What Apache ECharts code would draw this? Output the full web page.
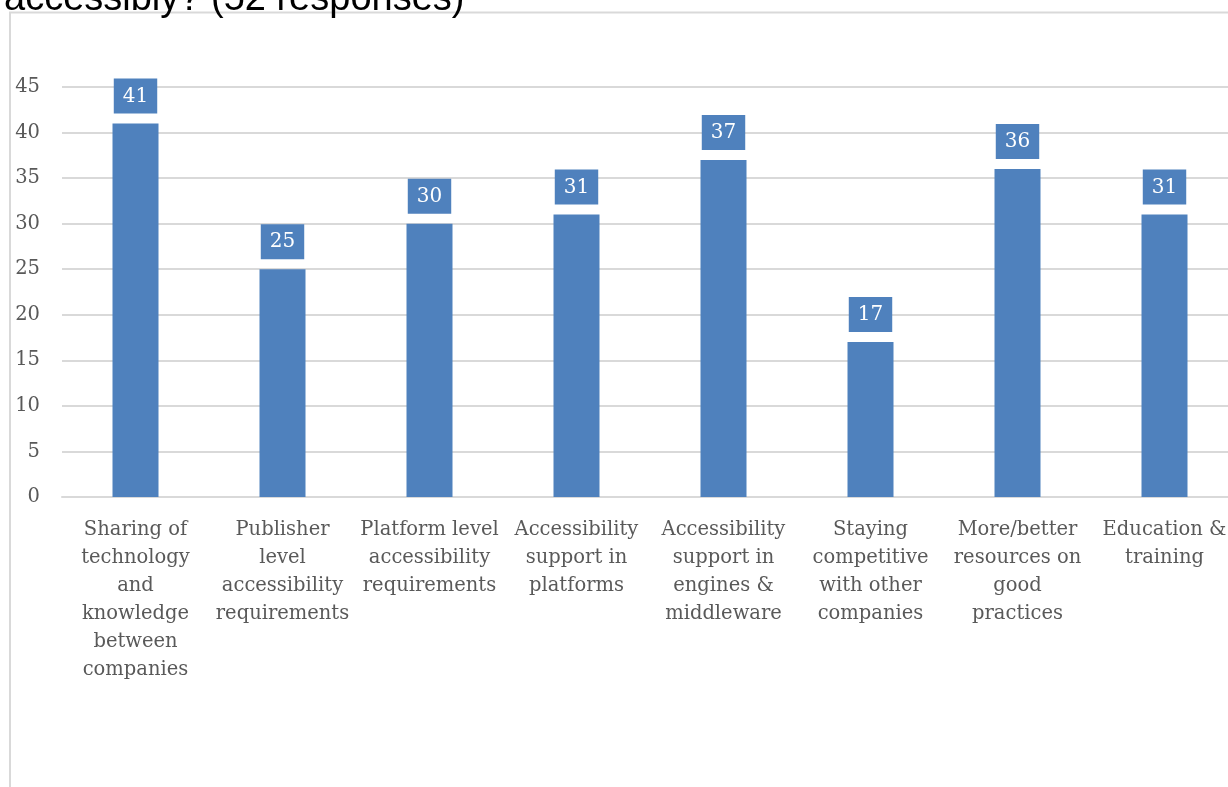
<!DOCTYPE html>
<html>
<head>
<meta charset="utf-8">
<script src="https://cdn.jsdelivr.net/npm/echarts@6/dist/echarts.min.js"></script>
<style>
  html, body { margin: 0; padding: 0; background: #ffffff; }
  #chart { width: 1228px; height: 787px; }
</style>
</head>
<body>
<div id="chart"></div>
<script>
// Survey answers: what would help improve accessibility
const titleText = 'accessibly? (52 responses)';

const categories = [
  'Sharing of\ntechnology\nand\nknowledge\nbetween\ncompanies',
  'Publisher\nlevel\naccessibility\nrequirements',
  'Platform level\naccessibility\nrequirements',
  'Accessibility\nsupport in\nplatforms',
  'Accessibility\nsupport in\nengines &\nmiddleware',
  'Staying\ncompetitive\nwith other\ncompanies',
  'More/better\nresources on\ngood\npractices',
  'Education &\ntraining'
];

const responses = [41, 25, 30, 31, 37, 17, 36, 31];

const yMin = 0;
const yMax = 45;
const yStep = 5;

const barBlue = '#4f81bd';
const gridGray = '#d9d9d9';
const textGray = '#595959';
const serif = '"DejaVu Serif", serif';

const chart = echarts.init(document.getElementById('chart'), null, { renderer: 'canvas' });

chart.setOption({
  animation: false,
  backgroundColor: '#ffffff',
  title: {
    text: titleText,
    left: -1,
    top: -24,
    textStyle: {
      fontFamily: '"Liberation Sans", Arial, sans-serif',
      fontSize: 38,
      fontWeight: 'normal',
      color: '#000000'
    }
  },
  graphic: [
    {
      type: 'rect',
      silent: true,
      z: -1,
      shape: { x: 10, y: 12.5, width: 1400, height: 900 },
      style: { fill: 'none', stroke: gridGray, lineWidth: 2 }
    }
  ],
  grid: {
    left: 62,
    top: 87,
    width: 1176,
    height: 410,
    containLabel: false,
    outerBoundsMode: 'none'
  },
  xAxis: {
    type: 'category',
    data: categories,
    axisLine: { show: true, lineStyle: { color: gridGray, width: 2 } },
    axisTick: { show: false },
    axisLabel: {
      interval: 0,
      margin: 19,
      fontFamily: serif,
      fontSize: 19.5,
      lineHeight: 28,
      color: textGray,
      align: 'center'
    }
  },
  yAxis: {
    type: 'value',
    min: yMin,
    max: yMax,
    interval: yStep,
    axisLine: { show: false },
    axisTick: { show: false },
    splitLine: { lineStyle: { color: gridGray, width: 2 } },
    axisLabel: {
      margin: 22,
      fontFamily: serif,
      fontSize: 19.5,
      color: textGray
    }
  },
  series: [
    {
      type: 'bar',
      data: responses,
      barWidth: 46,
      itemStyle: { color: barBlue },
      label: {
        show: true,
        position: 'top',
        distance: 10,
        backgroundColor: barBlue,
        color: '#ffffff',
        fontFamily: serif,
        fontSize: 20,
        lineHeight: 24,
        padding: [6, 9, 5, 9]
      }
    }
  ]
});
</script>
</body>
</html>
